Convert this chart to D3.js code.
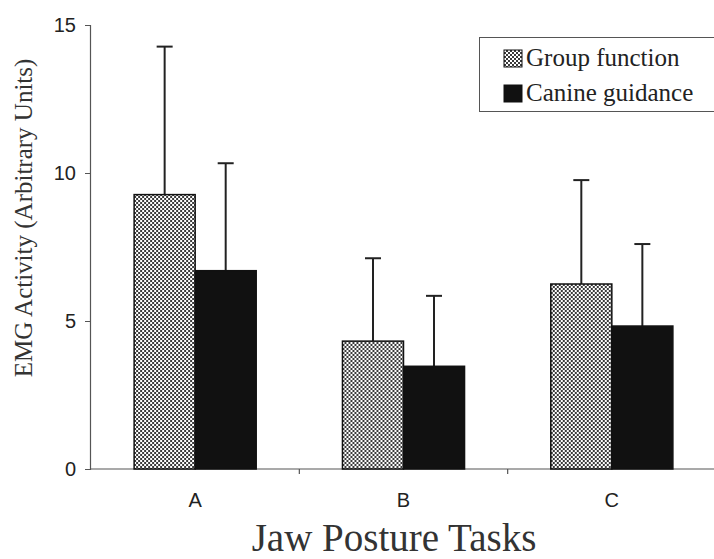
<!DOCTYPE html>
<html>
<head>
<meta charset="utf-8">
<script src="https://cdn.jsdelivr.net/npm/d3@7"></script>
<style>
  html, body { margin: 0; padding: 0; background: #fff; }
  svg { display: block; }
</style>
</head>
<body>
<svg id="chart" width="714" height="559"></svg>
<script>
const categories = ["A", "B", "C"];
const seriesNames = ["Group function", "Canine guidance"];
const groupFunction = [9.27, 4.32, 6.25];
const groupFunctionErr = [5.00, 2.80, 3.51];
const canineGuidance = [6.70, 3.47, 4.83];
const canineGuidanceErr = [3.63, 2.38, 2.77];
const yTicks = [0, 5, 10, 15];

const svg = d3.select("#chart");
const defs = svg.append("defs");
const pat = defs.append("pattern").attr("id", "checker")
  .attr("patternUnits", "userSpaceOnUse").attr("width", 4).attr("height", 4);
pat.append("rect").attr("width", 4).attr("height", 4).attr("fill", "#fff");
pat.append("rect").attr("x", 0).attr("y", 0).attr("width", 2).attr("height", 2).attr("fill", "#3a3a3a");
pat.append("rect").attr("x", 2).attr("y", 2).attr("width", 2).attr("height", 2).attr("fill", "#3a3a3a");

const fills = ["url(#checker)", "#111"];

const y = d3.scaleLinear().domain([0, 15]).range([469, 25]);
const x0 = d3.scaleBand().domain(categories).range([91, 716]).paddingInner(0.414).paddingOuter(0.207);
const x1 = d3.scaleBand().domain(seriesNames).range([0, x0.bandwidth()]);

const data = categories.map((c, i) => ({
  cat: c,
  vals: [
    { s: seriesNames[0], v: groupFunction[i], e: groupFunctionErr[i] },
    { s: seriesNames[1], v: canineGuidance[i], e: canineGuidanceErr[i] }
  ]
}));

// Y axis
const yAxis = d3.axisLeft(y).tickValues(yTicks).tickSize(5).tickPadding(9).tickFormat(d3.format("d"));
const gy = svg.append("g").attr("transform", "translate(90,0)").call(yAxis)
  .attr("font-size", 20).attr("font-family", "'Liberation Sans', Arial, sans-serif");
gy.select(".domain").attr("stroke", "#555").attr("stroke-width", 1.2);
gy.selectAll(".tick line").attr("stroke", "#555");
gy.selectAll(".tick text").style("font-size", "20px").attr("fill", "#222");

// X axis line
svg.append("line").attr("x1", 90).attr("x2", 714).attr("y1", y(0)).attr("y2", y(0))
  .attr("stroke", "#555").attr("stroke-width", 1.2);
// ticks between categories
const step = x0.step();
categories.slice(1).forEach(c => {
  const xb = x0(c) - x0.paddingInner() * step / 2;
  svg.append("line").attr("x1", xb).attr("x2", xb).attr("y1", y(0)).attr("y2", y(0) + 5)
    .attr("stroke", "#555").attr("stroke-width", 1.2);
});
// category labels
svg.selectAll(".catlabel").data(categories).enter().append("text")
  .attr("x", d => x0(d) + x0.bandwidth() / 2)
  .attr("y", 507)
  .attr("text-anchor", "middle")
  .attr("font-family", "'Liberation Sans', Arial, sans-serif")
  .style("font-size", "20px").attr("fill", "#222")
  .text(d => d);

// bars
const groups = svg.selectAll(".grp").data(data).enter().append("g")
  .attr("transform", d => `translate(${x0(d.cat)},0)`);

// error bars (behind bars)
groups.selectAll(".err").data(d => d.vals).enter().append("g").each(function(d) {
  const g = d3.select(this);
  const cx = x1(d.s) + x1.bandwidth() / 2;
  g.append("line").attr("x1", cx).attr("x2", cx).attr("y1", y(d.v)).attr("y2", y(d.v + d.e))
    .attr("stroke", "#222").attr("stroke-width", 2);
  g.append("line").attr("x1", cx - 8).attr("x2", cx + 8).attr("y1", y(d.v + d.e)).attr("y2", y(d.v + d.e))
    .attr("stroke", "#222").attr("stroke-width", 2);
});

groups.selectAll(".bar").data(d => d.vals).enter().append("rect")
  .attr("x", d => x1(d.s))
  .attr("y", d => y(d.v))
  .attr("width", x1.bandwidth())
  .attr("height", d => y(0) - y(d.v))
  .attr("fill", (d, i) => fills[i])
  .attr("stroke", "#111").attr("stroke-width", 1.5);

// Y title
svg.append("text")
  .attr("transform", "translate(32,218) rotate(-90)")
  .attr("text-anchor", "middle")
  .attr("font-family", "'Liberation Serif', 'Times New Roman', serif")
  .style("font-size", "25px").attr("fill", "#333")
  .text("EMG Activity (Arbitrary Units)");

// X title
svg.append("text")
  .attr("x", 394).attr("y", 551)
  .attr("text-anchor", "middle")
  .attr("font-family", "'Liberation Serif', 'Times New Roman', serif")
  .style("font-size", "39px").attr("fill", "#333")
  .text("Jaw Posture Tasks");

// Legend
const lg = svg.append("g");
lg.append("rect").attr("x", 479.5).attr("y", 37.5).attr("width", 240).attr("height", 74)
  .attr("fill", "#fff").attr("stroke", "#555").attr("stroke-width", 1);
seriesNames.forEach((s, i) => {
  const yy = 50 + i * 35;
  lg.append("rect").attr("x", 504).attr("y", yy).attr("width", 18).attr("height", 17)
    .attr("fill", fills[i]).attr("stroke", "#111").attr("stroke-width", 1);
  lg.append("text").attr("x", 526).attr("y", yy + 16)
    .attr("font-family", "'Liberation Serif', 'Times New Roman', serif")
    .style("font-size", "25px").attr("fill", "#222")
    .text(s);
});
</script>
</body>
</html>
